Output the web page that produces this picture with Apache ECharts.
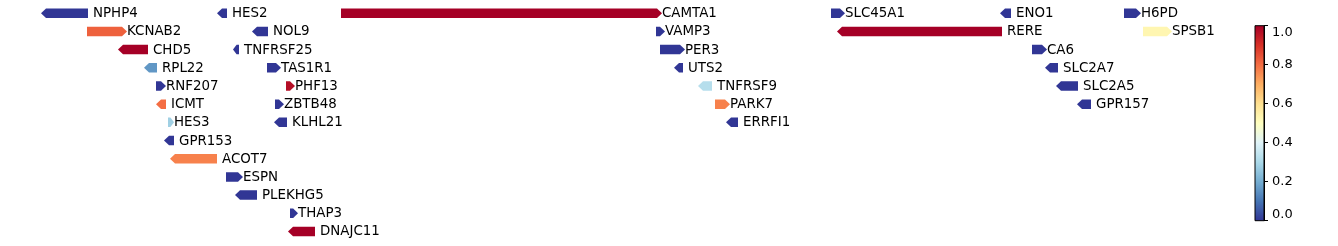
<!DOCTYPE html>
<html><head><meta charset="utf-8">
<script src="https://cdn.jsdelivr.net/npm/echarts@6/dist/echarts.min.js"></script>
<style>html,body{margin:0;padding:0;background:#fff}#c{width:1338px;height:246px}</style>
</head><body><div id="c"></div>
<script>
// Gene track data (positions in kb)
const genes   = ['NPHP4','HES2','CAMTA1','SLC45A1','ENO1','H6PD',
                 'KCNAB2','NOL9','VAMP3','RERE','SPSB1',
                 'CHD5','TNFRSF25','PER3','CA6',
                 'RPL22','TAS1R1','UTS2','SLC2A7',
                 'RNF207','PHF13','TNFRSF9','SLC2A5',
                 'ICMT','ZBTB48','PARK7','GPR157',
                 'HES3','KLHL21','ERRFI1',
                 'GPR153','ACOT7','ESPN','PLEKHG5','THAP3','DNAJC11'];
const starts  = [5823,6351,6723,8193,8700,9072,
                 5961,6456,7668,8211,9129,
                 6054,6399,7680,8796,
                 6132,6501,7722,8835,
                 6168,6558,7794,8868,
                 6168,6525,7845,8931,
                 6204,6522,7878,
                 6192,6210,6378,6405,6570,6564];
const ends    = [5964,6381,7686,8235,8733,9123,
                 6081,6504,7695,8706,9216,
                 6144,6417,7755,8841,
                 6171,6543,7749,8874,
                 6198,6585,7836,8934,
                 6198,6552,7890,8973,
                 6222,6561,7914,
                 6222,6351,6429,6471,6594,6645];
const rows    = [0,0,0,0,0,0,
                 1,1,1,1,1,
                 2,2,2,2,
                 3,3,3,3,
                 4,4,4,4,
                 5,5,5,5,
                 6,6,6,
                 7,8,9,10,11,12];
const strands = [-1,-1,1,1,-1,1,
                 1,-1,1,-1,1,
                 -1,-1,1,1,
                 -1,1,-1,-1,
                 1,1,-1,-1,
                 -1,1,1,-1,
                 1,-1,-1,
                 -1,-1,1,-1,1,-1];
const scores  = [0,0,1.0,0,0,0,
                 0.82,0,0,1.0,0.53,
                 1.0,0,0,0,
                 0.16,0,0,0,
                 0,0.97,0.32,0,
                 0.8,0,0.77,0,
                 0.28,0,0,
                 0,0.77,0,0,0,1.0];
const cbTicks = [0,0.2,0.4,0.6,0.8,1.0];
const cmap = ['#313695','#4575b4','#74add1','#abd9e9','#e0f3f8','#ffffbf','#fee090','#fdae61','#f46d43','#d73027','#a50026'];

const data = genes.map((g,i)=>[starts[i],ends[i],rows[i],strands[i],scores[i]]);
const chart = echarts.init(document.getElementById('c'), null, {renderer:'canvas'});
const FONT = '13.4px "DejaVu Sans"';
chart.setOption({
  animation:false,
  grid:[
    {left:0, right:0, top:13.2, bottom:14.5},
    {left:1255, width:9, top:25.7, height:195, show:true, borderColor:'#000', borderWidth:1, backgroundColor:'transparent', z:5}
  ],
  xAxis:[
    {type:'value', gridIndex:0, min:5700, max:5700+3*1338, show:false},
    {type:'category', gridIndex:1, data:[''], show:false}
  ],
  yAxis:[
    {type:'value', gridIndex:0, min:0, max:12, inverse:true, show:false},
    {type:'value', gridIndex:1, min:cbTicks[0], max:cbTicks[cbTicks.length-1], interval:0.2, position:'right',
     axisLine:{show:true, lineStyle:{color:'#000', width:1}},
     axisTick:{show:true, inside:false, length:4, lineStyle:{color:'#000'}},
     splitLine:{show:false},
     axisLabel:{margin:8, color:'#000', fontSize:13, fontFamily:'DejaVu Sans',
       formatter:v=>v.toFixed(1), verticalAlignMaxLabel:'top', verticalAlignMinLabel:'bottom'}}
  ],
  visualMap:{type:'continuous', min:0, max:1, dimension:4, seriesIndex:0, show:false, inRange:{color:cmap}},
  series:[
    {type:'custom', xAxisIndex:0, yAxisIndex:0, data:data, clip:false,
     renderItem:function(params, api){
       const s=api.value(0), e=api.value(1), row=api.value(2), strand=api.value(3);
       const p0=api.coord([s,row]), p1=api.coord([e,row]);
       const x0=p0[0], x1=p1[0], y=p0[1], h=9.5;
       const len=x1-x0, hl=Math.min(5,len*0.6);
       let pts;
       if(strand>0) pts=[[x0,y-h/2],[x1-hl,y-h/2],[x1,y],[x1-hl,y+h/2],[x0,y+h/2]];
       else pts=[[x1,y-h/2],[x0+hl,y-h/2],[x0,y],[x0+hl,y+h/2],[x1,y+h/2]];
       return {type:'group', children:[
         {type:'polygon', shape:{points:pts}, style:{fill:api.visual('color')}},
         {type:'text', style:{text:genes[params.dataIndex], x:x1+(strand>0?0:5), y:y+0.5,
           verticalAlign:'middle', align:'left', font:FONT, fill:'#000'}}
       ]};
     }},
    {type:'bar', xAxisIndex:1, yAxisIndex:1, data:[1], barWidth:'100%', silent:true,
     itemStyle:{color:new echarts.graphic.LinearGradient(0,0,0,1,
       cmap.slice().reverse().map((c,i)=>({offset:i/(cmap.length-1), color:c})))}}
  ]
});
</script></body></html>
